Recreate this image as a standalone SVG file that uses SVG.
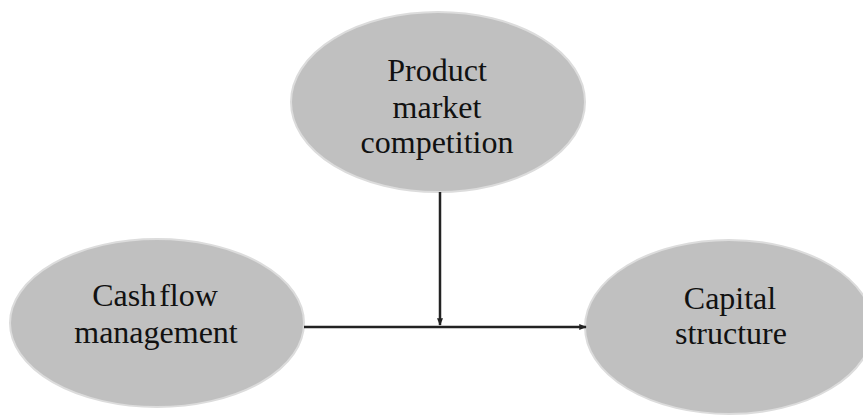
<svg xmlns="http://www.w3.org/2000/svg" width="863" height="416" viewBox="0 0 863 416">
<style>
.node ellipse{fill:#c0c0c0;stroke:#dcdcdc;stroke-width:2}
.node text{font-family:"Liberation Serif",serif;font-size:32px;fill:#111;text-anchor:middle}
.conn line{stroke:#222;stroke-width:2.5}
</style>
<defs>
<marker id="ah" viewBox="0 0 10 10" refX="9" refY="5" markerWidth="3" markerHeight="3" orient="auto"><path d="M0,1 L10,5 L0,9 Z" fill="#222"/></marker>
</defs>
<rect width="863" height="416" fill="#fff"/>
<g id="n-product" class="node">
<ellipse cx="438" cy="102" rx="147" ry="90"/>
<text x="437" y="81">Product</text>
<text x="437" y="118">market</text>
<text x="437" y="153">competition</text>
</g>
<g id="n-cash" class="node">
<ellipse cx="157" cy="323" rx="147" ry="84"/>
<text x="155" y="306" word-spacing="-5">Cash flow</text>
<text x="156" y="343">management</text>
</g>
<g id="n-capital" class="node">
<ellipse cx="729" cy="327" rx="144" ry="87"/>
<text x="730" y="309">Capital</text>
<text x="731" y="344">structure</text>
</g>
<g id="connectors" class="conn">
<line x1="304" y1="327" x2="586" y2="327" marker-end="url(#ah)"/>
<line x1="440" y1="192" x2="440" y2="325" marker-end="url(#ah)"/>
</g>
</svg>
